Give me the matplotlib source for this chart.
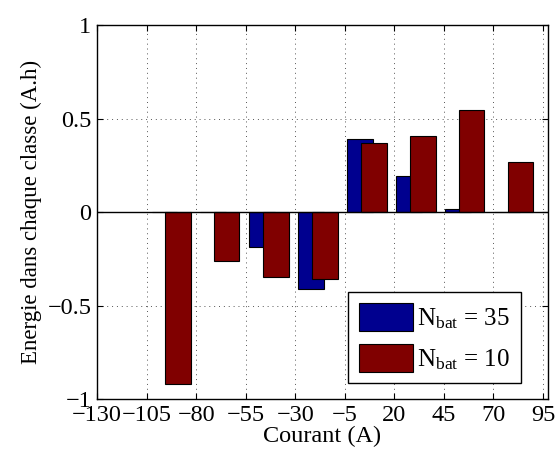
import matplotlib
matplotlib.use("Agg")
import matplotlib.pyplot as plt
import numpy as np

# Data
centers = [-92.6, -68.0, -43.2, -18.5, 6.2, 30.9, 55.6, 80.3]
nbat35 = [0.0, 0.0, -0.185, -0.413, 0.390, 0.194, 0.017, 0.0]
nbat10 = [-0.918, -0.260, -0.347, -0.358, 0.369, 0.404, 0.547, 0.270]
xticks = [-130, -105, -80, -55, -30, -5, 20, 45, 70, 95]
yticks = [-1, -0.5, 0, 0.5, 1]
ytick_labels = ["\u22121", "\u22120.5", "0", "0.5", "1"]
labels = [r"$\mathrm{N}_{\mathrm{bat}}$ = 35", r"$\mathrm{N}_{\mathrm{bat}}$ = 10"]

plt.rcParams["font.family"] = ["Liberation Serif", "DejaVu Serif"]
plt.rcParams["mathtext.fontset"] = "custom"
plt.rcParams["mathtext.rm"] = "Liberation Serif"
plt.rcParams["mathtext.it"] = "Liberation Serif:italic"
plt.rcParams["font.size"] = 17

fig = plt.figure(figsize=(5.58, 4.57), dpi=100)
ax = fig.add_axes([0.1738, 0.1269, 0.8082, 0.8184])

x = np.array(centers)
w = 12.85
off = 3.45
ax.bar(x - off, nbat35, width=w, color="#00008F", edgecolor="black",
       linewidth=0.8, label=labels[0], zorder=3)
ax.bar(x + off, nbat10, width=w, color="#800000", edgecolor="black",
       linewidth=0.8, label=labels[1], zorder=3)
ax.axhline(0, color="black", linewidth=1.0, zorder=4)

ax.set_xlim(-130, 97.5)
ax.set_ylim(-1, 1)
ax.set_xticks(xticks)
ax.set_xticklabels([str(t).replace("-", "\u2212") for t in xticks])
ax.set_yticks(yticks)
ax.set_yticklabels(ytick_labels)
ax.tick_params(direction="in", length=4, width=0.8, top=True, right=True,
               labelsize=17.5, pad=4)
ax.grid(True, linestyle=(0, (1, 4)), color="#555555", linewidth=0.7, zorder=0)
for s in ax.spines.values():
    s.set_linewidth(1.0)
    s.set_zorder(5)

ax.set_xlabel("Courant (A)", fontsize=17.5, labelpad=0)
ax.set_ylabel("Energie dans chaque classe (A.h)", fontsize=16.5, labelpad=4)

leg = ax.legend(loc="lower right", bbox_to_anchor=(0.94, 0.043), fontsize=18,
                frameon=True, fancybox=False, edgecolor="black", framealpha=1,
                handlelength=2.15, handleheight=1.35, borderpad=0.45,
                labelspacing=0.5, handletextpad=0.15, borderaxespad=0)
leg.get_frame().set_linewidth(1.0)
leg.set_zorder(10)

fig.savefig("out.png", dpi=100)
